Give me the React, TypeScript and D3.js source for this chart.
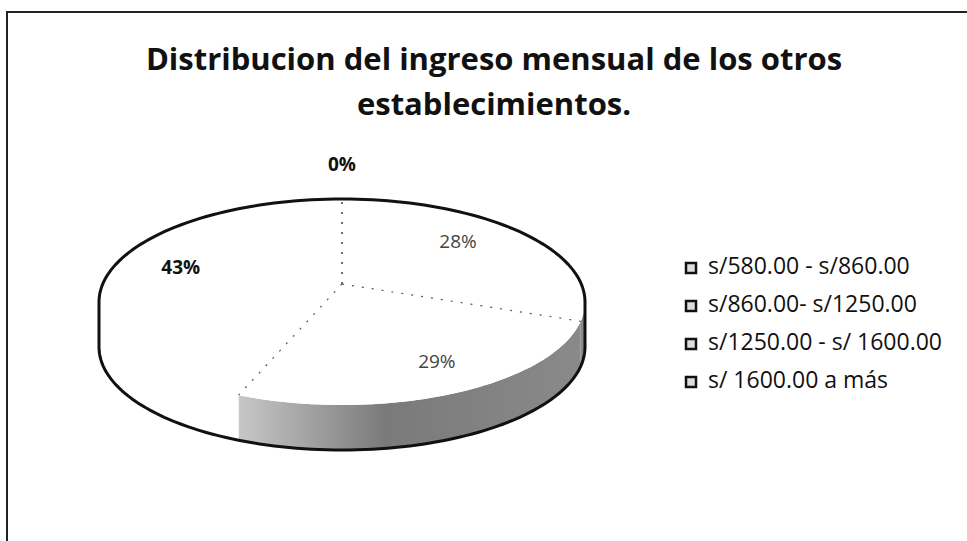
import React, { useEffect, useRef } from "react";
import * as d3 from "d3";

const categories = [
  "s/580.00 - s/860.00",
  "s/860.00- s/1250.00",
  "s/1250.00 - s/ 1600.00",
  "s/ 1600.00 a más",
];
const values = [28, 29, 43, 0];
const titleLines = ["Distribucion del ingreso mensual de los otros", "establecimientos."];

// styling per slice (not data)
const sideFills = ["url(#sideGrad)", "url(#sideGrad)", "#ffffff", "#ffffff"];
const labelBold = [false, false, true, true];
const labelRadius = [0.62, 0.86, 0.68, 1.15];

const W = 967;
const H = 541;

const App: React.FC = () => {
  const svgRef = useRef<SVGSVGElement>(null);

  useEffect(() => {
    if (!svgRef.current) return;
    const svg = d3.select(svgRef.current);
    svg.selectAll("*").remove();

    const font = "Open Sans, DejaVu Sans, sans-serif";

    const defs = svg.append("defs");
    const grad = defs
      .append("linearGradient")
      .attr("id", "sideGrad")
      .attr("gradientUnits", "userSpaceOnUse")
      .attr("x1", 223)
      .attr("x2", 585)
      .attr("y1", 0)
      .attr("y2", 0);
    grad.append("stop").attr("offset", "0").attr("stop-color", "#cfcfcf");
    grad.append("stop").attr("offset", "0.45").attr("stop-color", "#7a7a7a");
    grad.append("stop").attr("offset", "1").attr("stop-color", "#8a8a8a");

    // frame
    svg
      .append("path")
      .attr("d", `M7,${H + 5} L7,12 L${W + 5},12`)
      .attr("fill", "none")
      .attr("stroke", "#222")
      .attr("stroke-width", 2);

    // title
    svg
      .append("g")
      .selectAll("text")
      .data(titleLines)
      .enter()
      .append("text")
      .attr("x", 494)
      .attr("y", (_, i) => 70 + i * 45)
      .attr("text-anchor", "middle")
      .attr("font-family", font)
      .attr("font-weight", "bold")
      .attr("font-size", 31)
      .attr("fill", "#111")
      .text((d) => d);

    // 3D pie
    const cx = 342;
    const cy = 302;
    const rx = 243;
    const ry = 103;
    const depth = 45;
    const hubY = cy - 18;

    const pt = (a: number, k = 1, dy = 0, oy = cy): [number, number] => [
      cx + rx * k * Math.sin(a),
      oy - ry * k * Math.cos(a) + dy,
    ];

    const pie = d3
      .pie<number>()
      .sort(null)
      .startAngle(0)
      .endAngle(2 * Math.PI)
      .value((d) => d);
    const arcs = pie(values);

    const line = d3.line<[number, number]>();
    const arcPts = (a0: number, a1: number, dy = 0) => {
      const n = Math.max(2, Math.ceil(((a1 - a0) / (2 * Math.PI)) * 200));
      return d3.range(n + 1).map((i) => pt(a0 + ((a1 - a0) * i) / n, 1, dy));
    };

    const g = svg.append("g");

    // sides (front half only)
    arcs.forEach((a, i) => {
      const s = Math.max(a.startAngle, Math.PI / 2);
      const e = Math.min(a.endAngle, (3 * Math.PI) / 2);
      if (e <= s) return;
      const top = arcPts(s, e);
      const bottom = arcPts(s, e, depth).reverse();
      g.append("path")
        .attr("d", line([...top, ...bottom]) + "Z")
        .attr("fill", sideFills[i])
        .attr("stroke", "none");
    });

    // tops
    arcs.forEach((a) => {
      if (a.endAngle - a.startAngle <= 0) return;
      const pts: [number, number][] = [[cx, hubY], ...arcPts(a.startAngle, a.endAngle)];
      g.append("path")
        .attr("d", line(pts) + "Z")
        .attr("fill", "#ffffff")
        .attr("stroke", "none");
    });

    // slice boundaries (dotted, faint)
    arcs.forEach((a) => {
      const [x, y] = pt(a.startAngle);
      g.append("line")
        .attr("x1", cx)
        .attr("y1", hubY)
        .attr("x2", x)
        .attr("y2", y)
        .attr("stroke", "#555")
        .attr("stroke-width", 1.2)
        .attr("stroke-dasharray", "2,8");
    });

    // silhouette
    const sil = [
      ...arcPts(-Math.PI / 2, Math.PI / 2),
      ...arcPts(Math.PI / 2, (3 * Math.PI) / 2, depth),
    ];
    g.append("path")
      .attr("d", line(sil) + "Z")
      .attr("fill", "none")
      .attr("stroke", "#111")
      .attr("stroke-width", 3);

    // labels
    arcs.forEach((a, i) => {
      const mid = (a.startAngle + a.endAngle) / 2;
      const [x, y] = pt(mid, labelRadius[i], 0, hubY);
      g.append("text")
        .attr("x", x)
        .attr("y", y)
        .attr("text-anchor", "middle")
        .attr("dominant-baseline", "middle")
        .attr("font-family", font)
        .attr("font-weight", labelBold[i] ? "bold" : "normal")
        .attr("font-size", 19)
        .attr("fill", labelBold[i] ? "#111" : "#444")
        .text(`${a.value}%`);
    });

    // legend
    const ly = d3.scalePoint<string>().domain(categories).range([268, 382]);
    const leg = svg
      .append("g")
      .selectAll("g")
      .data(categories)
      .enter()
      .append("g")
      .attr("transform", (d) => `translate(686,${ly(d)})`);
    leg
      .append("rect")
      .attr("x", 0)
      .attr("y", -5)
      .attr("width", 10)
      .attr("height", 10)
      .attr("fill", "#ddd")
      .attr("stroke", "#111")
      .attr("stroke-width", 2.5);
    leg
      .append("text")
      .attr("x", 22)
      .attr("y", 0)
      .attr("dominant-baseline", "middle")
      .attr("font-family", font)
      .attr("font-size", 23)
      .attr("fill", "#111")
      .text((d) => d);
  }, []);

  return (
    <svg
      ref={svgRef}
      width={W}
      height={H}
      style={{ position: "absolute", left: 0, top: 0, background: "#fff" }}
    />
  );
};

export default App;
